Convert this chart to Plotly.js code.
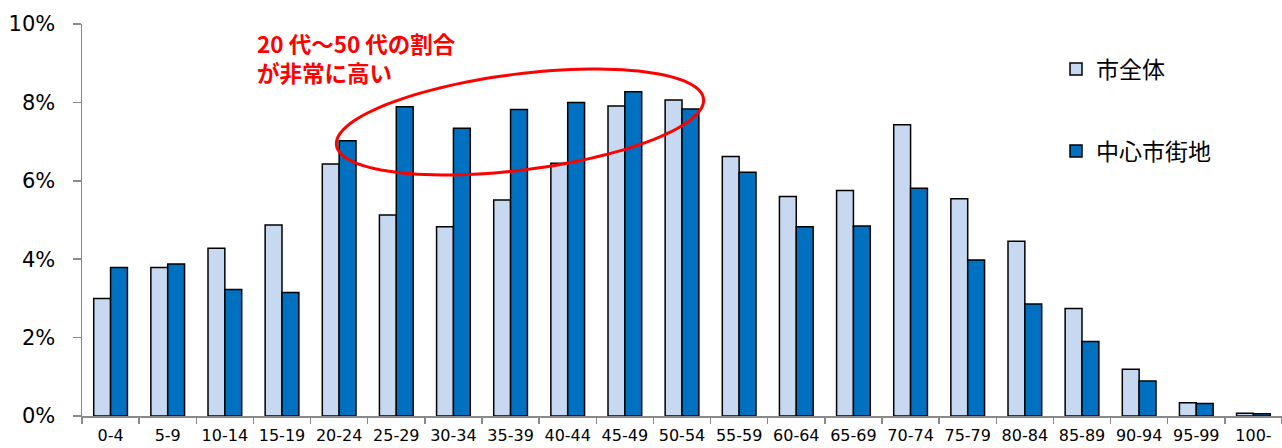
<!DOCTYPE html>
<html>
<head>
<meta charset="utf-8">
<script src="https://cdn.plot.ly/plotly-3.0.1.min.js"></script>
<style>html,body{margin:0;padding:0;background:#fff;}#chart{width:1282px;height:448px;}</style>
</head>
<body>
<div id="chart"></div>
<script>
// ---- data ----
const ageGroups = ["0-4","5-9","10-14","15-19","20-24","25-29","30-34","35-39","40-44","45-49","50-54","55-59","60-64","65-69","70-74","75-79","80-84","85-89","90-94","95-99","100-"];
const cityWhole = [3.00,3.79,4.28,4.87,6.43,5.13,4.83,5.51,6.45,7.91,8.06,6.62,5.60,5.75,7.43,5.54,4.46,2.74,1.19,0.34,0.07];
const cityCenter = [3.79,3.88,3.23,3.15,7.02,7.89,7.34,7.82,8.00,8.27,7.83,6.22,4.83,4.85,5.81,3.98,2.86,1.90,0.89,0.32,0.06];
const seriesNames = ["市全体","中心市街地"];
const yTicks = [0,2,4,6,8,10];
const noteLines = ["20 代～50 代の割合", "が非常に高い"];

// ---- layout geometry ----
const W = 1282, H = 448;
const M = {l: 82, r: 0, t: 24, b: 32};
const plotW = W - M.l - M.r, plotH = H - M.t - M.b;
const toPaperX = px => (px - M.l) / plotW;
const toPaperY = py => (H - M.b - py) / plotH;

// highlight ellipse (pixel geometry)
function ellipsePath(cx, cy, a, b, deg, n) {
  const th = deg * Math.PI / 180;
  let d = "";
  for (let i = 0; i <= n; i++) {
    const t = 2 * Math.PI * i / n;
    const x = cx + a * Math.cos(t) * Math.cos(th) - b * Math.sin(t) * Math.sin(th);
    const y = cy + a * Math.cos(t) * Math.sin(th) + b * Math.sin(t) * Math.cos(th);
    d += (i === 0 ? "M" : "L") + toPaperX(x).toFixed(5) + "," + toPaperY(y).toFixed(5);
  }
  return d + "Z";
}

const tickFont = {family: "DejaVu Sans, Verdana, sans-serif", size: 21, color: "#000"};
const legFont = {family: "Noto Sans CJK JP, sans-serif", size: 23, color: "#000"};
const noteFont = {family: "Noto Sans CJK JP, sans-serif", size: 22.5, color: "#FF0000", weight: "bold"};

const traces = [
  {type: "bar", name: seriesNames[0], x: ageGroups, y: cityWhole, legend: "legend",
   marker: {color: "#C6D9F1", line: {color: "#000", width: 1.5}}},
  {type: "bar", name: seriesNames[1], x: ageGroups, y: cityCenter, legend: "legend2",
   marker: {color: "#0070C0", line: {color: "#000", width: 1.5}}}
];

const layout = {
  width: W, height: H,
  margin: M,
  paper_bgcolor: "#fff", plot_bgcolor: "#fff",
  barmode: "group", bargap: 0.41, bargroupgap: 0,
  showlegend: true,
  legend: {x: toPaperX(1056), y: toPaperY(69), xanchor: "left", yanchor: "middle",
           font: legFont, bgcolor: "rgba(0,0,0,0)"},
  legend2: {x: toPaperX(1056), y: toPaperY(151), xanchor: "left", yanchor: "middle",
           font: legFont, bgcolor: "rgba(0,0,0,0)"},
  xaxis: {
    type: "category", tickson: "boundaries", ticks: "outside", ticklen: 6, tickwidth: 1.5, tickcolor: "#898989",
    showline: true, linecolor: "#898989", linewidth: 1.5, showgrid: false, zeroline: false,
    tickfont: {family: "DejaVu Sans, Verdana, sans-serif", size: 16, color: "#000"},
    ticklabelstandoff: 4
  },
  yaxis: {
    range: [0, 10], tickvals: yTicks, ticktext: yTicks.map(v => v + "%"),
    ticks: "outside", ticklen: 8, tickwidth: 1.5, tickcolor: "#898989",
    showline: true, linecolor: "#898989", linewidth: 1.5, showgrid: false, zeroline: false,
    tickfont: tickFont, ticklabelstandoff: 13
  },
  shapes: [
    {type: "path", xref: "paper", yref: "paper", path: ellipsePath(520, 122, 185, 48, -7.2, 120),
     line: {color: "#FF0000", width: 3}, fillcolor: "rgba(0,0,0,0)", layer: "above"}
  ],
  annotations: noteLines.map((t, i) => ({
    xref: "paper", yref: "paper", x: toPaperX(255), y: toPaperY(43 + i * 29), xanchor: "left", yanchor: "middle",
    text: t, showarrow: false, align: "left", font: noteFont
  }))
};

Plotly.newPlot("chart", traces, layout, {displayModeBar: false, staticPlot: true});
</script>
</body>
</html>
